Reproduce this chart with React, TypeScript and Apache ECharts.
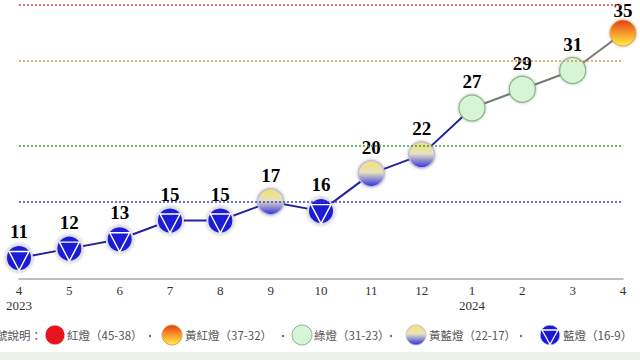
import React, { useEffect, useRef } from "react";
import * as echarts from "echarts";

const months = ["4", "5", "6", "7", "8", "9", "10", "11", "12", "1", "2", "3", "4"];
const years = ["2023", "", "", "", "", "", "", "", "", "2024", "", "", ""];
const scores = [11, 12, 13, 15, 15, 17, 16, 20, 22, 27, 29, 31, 35];
const thresholds = [38, 32, 23, 17];
const thresholdColors = ["#d84848", "#d8944a", "#3f9a3f", "#3c3cc8"];
const legendLabels = ["紅燈（45-38）", "黃紅燈（37-32）", "綠燈（31-23）", "黃藍燈（22-17）", "藍燈（16-9）"];

function levelOf(v: number): number {
  if (v >= 38) return 0;
  if (v >= 32) return 1;
  if (v >= 23) return 2;
  if (v >= 17) return 3;
  return 4;
}

const grad = (stops: [number, string][]) => ({
  type: "linear",
  x: 0,
  y: 0,
  x2: 0,
  y2: 1,
  colorStops: stops.map(([offset, color]) => ({ offset, color })),
});

const levelStyles: any[] = [
  { color: "#e8141c", borderColor: "rgba(255,255,255,0.9)", borderWidth: 1.5 },
  {
    color: grad([
      [0, "#e43a18"],
      [0.45, "#f8902a"],
      [1, "#fff04a"],
    ]),
    borderColor: "#e0a040",
    borderWidth: 1,
  },
  { color: "#d6f5d6", borderColor: "#8ab48a", borderWidth: 1.2 },
  {
    color: grad([
      [0, "#f4e068"],
      [0.45, "#e6e2c0"],
      [1, "#2e2ee0"],
    ]),
    borderColor: "rgba(190,190,225,0.95)",
    borderWidth: 1.5,
  },
  { color: "#1a1ad6", borderColor: "rgba(225,225,235,0.95)", borderWidth: 2 },
];

const TRI = "path://M0,0 L16,0 L8,15 Z";

export default function App() {
  const ref = useRef<HTMLDivElement>(null);
  useEffect(() => {
    if (!ref.current) return;
    const chart = echarts.init(ref.current, undefined, { renderer: "svg" });
    const split = scores.findIndex((v) => v >= 23);
    const maxVal = Math.max(...scores);

    const markerData = scores.map((v, i) => {
      const lv = levelOf(v);
      const item: any = {
        value: [i, v],
        itemStyle: {
          ...levelStyles[lv],
          opacity: 1,
          shadowBlur: 3,
          shadowColor: "rgba(0,0,0,0.3)",
        },
      };
      if (v === maxVal) item.label = { distance: 0 };
      return item;
    });
    const triData = scores
      .map((v, i) => ({ v, i }))
      .filter((d) => levelOf(d.v) === 4)
      .map((d) => [d.i, d.v]);

    const circleX = [55, 172, 302, 416, 550];
    const textX = [67, 185, 314, 429, 563];
    const commaX = [150, 283, 391, 521];
    const ly = 335;
    const font = "11.5px 'Noto Sans CJK TC'";
    const graphics: any[] = [
      { type: "rect", shape: { x: 0, y: 352, width: 640, height: 8 }, style: { fill: "#edf2ea" } },
      {
        type: "text",
        x: 42,
        y: ly,
        style: { text: "燈號說明：", fill: "#555", font, align: "right", verticalAlign: "middle" },
      },
    ];
    legendLabels.forEach((label, k) => {
      const st = levelStyles[k];
      graphics.push({
        type: "circle",
        shape: { cx: circleX[k], cy: ly, r: 10 },
        style: { fill: st.color, stroke: st.borderColor, lineWidth: 1 },
      });
      if (k === 4) {
        const r = 10;
        graphics.push({
          type: "polygon",
          shape: {
            points: [
              [circleX[k] - 0.8 * r, ly - 0.5 * r],
              [circleX[k] + 0.8 * r, ly - 0.5 * r],
              [circleX[k], ly + 0.95 * r],
            ],
          },
          style: { fill: "none", stroke: "#fff", lineWidth: 1.3 },
        });
      }
      graphics.push({
        type: "text",
        x: textX[k],
        y: ly,
        style: { text: label, fill: "#555", font, verticalAlign: "middle" },
      });
      if (k < 4) {
        graphics.push({
          type: "circle",
          shape: { cx: commaX[k], cy: ly + 1, r: 1.2 },
          style: { fill: "#666" },
        });
      }
    });

    chart.setOption({
      animation: false,
      backgroundColor: "#ffffff",
      grid: { left: 19, right: 17, top: 0, bottom: 81, containLabel: false },
      xAxis: {
        type: "category",
        data: months,
        boundaryGap: false,
        axisLine: { lineStyle: { color: "#aaaaaa", width: 1.5 } },
        axisTick: { show: false },
        splitLine: { show: false },
        axisLabel: {
          color: "#333",
          fontFamily: "'Liberation Serif', serif",
          fontSize: 13,
          lineHeight: 15,
          margin: 4,
          interval: 0,
          formatter: (val: string, idx: number) => (years[idx] ? `${val}\n${years[idx]}` : val),
        },
      },
      yAxis: { type: "value", show: false, min: 8.76, max: 38.52 },
      series: [
        {
          type: "line",
          data: scores.map((v, i) => (i <= split ? v : "-")),
          showSymbol: false,
          lineStyle: { color: "#23239e", width: 2 },
          z: 2,
          markLine: {
            silent: true,
            symbol: "none",
            label: { show: false },
            data: thresholds.map((t, k) => ({
              yAxis: t,
              lineStyle: { color: thresholdColors[k], type: [2, 2], width: 1.5 },
            })),
          },
        },
        {
          type: "line",
          data: scores.map((v, i) => (i >= split ? v : "-")),
          showSymbol: false,
          lineStyle: { color: "#6f7f6f", width: 2 },
          z: 2,
        },
        {
          type: "scatter",
          data: markerData,
          symbol: "circle",
          symbolSize: 26,
          z: 3,
          label: {
            show: true,
            position: "top",
            distance: 3,
            formatter: (p: any) => String(p.value[1]),
            color: "#000",
            fontFamily: "'Liberation Serif', serif",
            fontWeight: "bold",
            fontSize: 19,
          },
        },
        {
          type: "scatter",
          data: triData,
          symbol: TRI,
          symbolKeepAspect: false,
          symbolSize: [20, 19],
          symbolOffset: [0, 3],
          z: 4,
          silent: true,
          itemStyle: { color: "none", opacity: 1, borderColor: "#ffffff", borderWidth: 1.4 },
        },
      ],
      graphic: graphics,
    });
    return () => chart.dispose();
  }, []);
  return (
    <div
      ref={ref}
      style={{ position: "absolute", left: 0, top: 0, width: 640, height: 360 }}
    />
  );
}
